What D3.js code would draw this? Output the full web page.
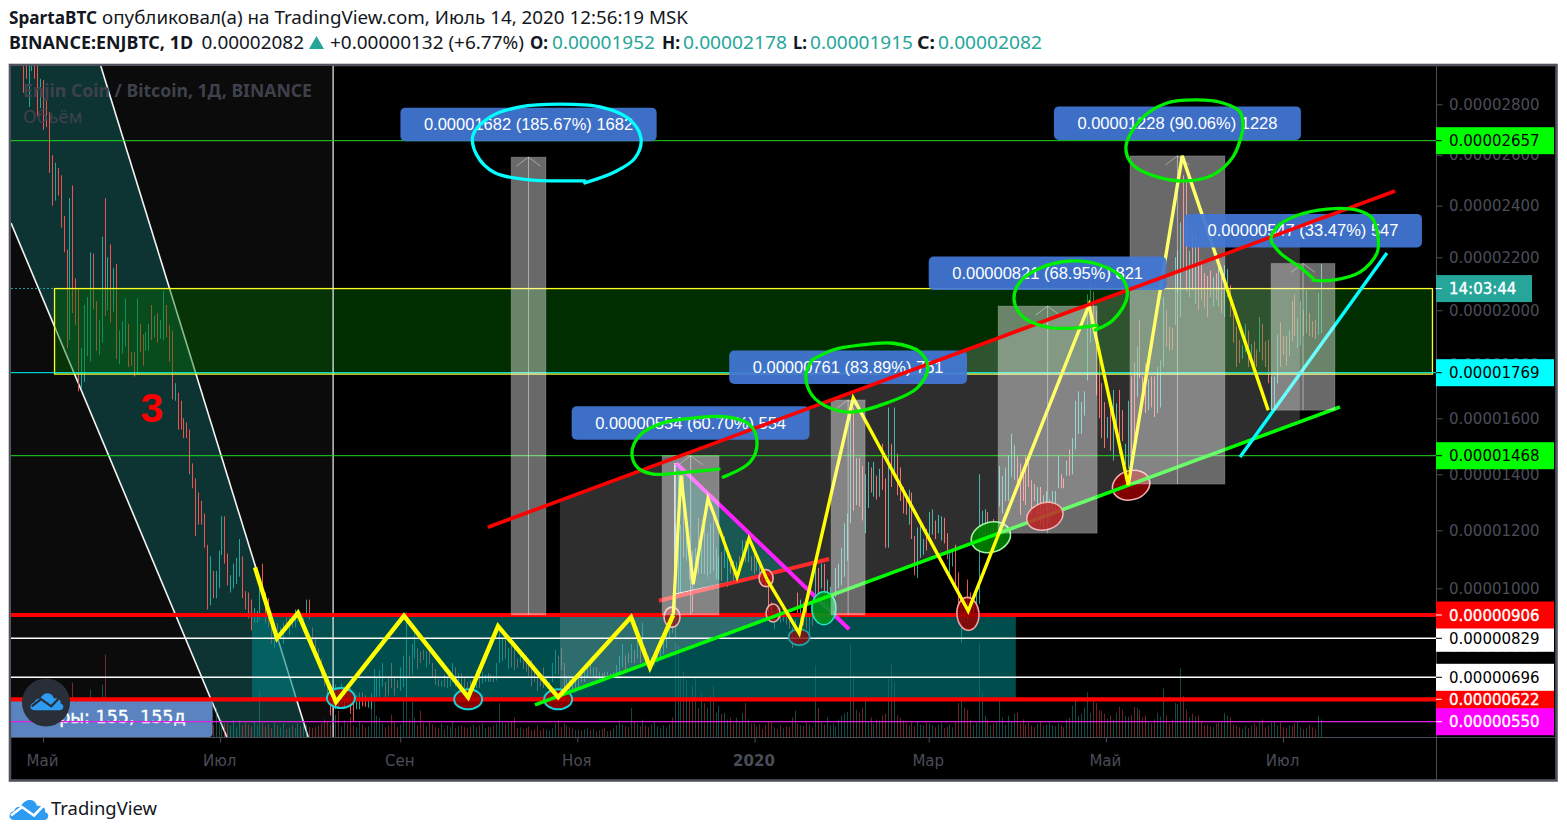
<!DOCTYPE html>
<html><head><meta charset="utf-8">
<script src="https://cdn.jsdelivr.net/npm/d3@7"></script>
<style>html,body{margin:0;padding:0;background:#fff;overflow:hidden}svg{display:block}</style>
</head><body><div id="chart"></div>
<script>
// ---- prices are in satoshi (1e-8 BTC); one row per ten daily bars, oldest first
const candleHigh=[
2960,2960,2960,2960,2960,2960,2900,2895,2815,2770,
2600,2570,2550,2520,2360,2230,2430,2480,2120,2080,
1860,2020,2050,2220,2215,2035,1965,2280,2430,2200,
2250,2160,2175,1925,1960,2045,1950,1845,1845,2045,
1950,1910,1920,1950,2020,1980,1990,1965,2075,2020,
1945,1925,1730,1695,1665,1600,1585,1560,1440,1385,
1335,1305,1260,1150,1110,1060,1060,1130,1250,1250,
1120,1045,1085,1105,1170,1110,990,985,960,930,
920,1025,1085,985,965,915,880,880,865,880,
898,898,906,925,922,915,898,960,960,865,
832,795,760,700,696,665,663,672,663,675,
665,663,660,620,635,645,645,635,625,642,
725,696,720,745,680,700,745,700,685,730,
770,915,770,810,845,795,785,790,785,785,
745,725,690,685,705,695,705,745,730,710,
710,695,680,685,680,720,705,715,705,710,
705,700,745,865,830,830,795,820,810,760,
790,780,770,760,755,730,696,700,730,700,
680,745,790,770,795,745,700,700,695,705,
705,710,720,735,760,730,730,715,710,715,
715,710,715,738,770,810,770,780,810,790,
865,820,880,795,770,765,785,795,790,830,
840,890,906,1220,1410,1220,1400,1200,1140,1130,
1140,1245,1165,1220,1190,1225,1245,1140,1110,1125,
1180,1125,1110,1095,1090,1110,1165,1165,1150,1110,
1125,1105,1090,1060,1045,1030,950,920,930,915,
900,900,895,865,890,985,960,950,930,905,
935,1070,1070,1085,1085,1030,1005,975,1070,1085,
1140,1225,1260,1640,1640,1460,1460,1430,1400,1445,
1425,1445,1395,1420,1510,1385,1640,1510,1640,1475,
1425,1355,1325,1345,1335,1180,1210,1230,1170,1205,
1265,1275,1235,1255,1250,1245,1190,1120,1135,1150,
1055,945,920,1030,985,960,985,1400,1270,1275,
1265,1210,1240,1210,1430,1395,1425,1470,1545,1505,
1465,1440,1415,1465,1465,1380,1365,1355,1355,1325,
1340,1310,1340,1340,1470,1400,1385,1450,1490,1530,
1665,1700,1660,1700,2060,2100,2070,2000,1830,1730,
1660,1605,1635,1705,1655,1705,1630,1510,1665,1755,
1805,1865,1965,1755,1805,1745,1755,1755,1790,1815,
2050,2000,1940,1935,2200,2225,2335,2520,2495,2225,
2290,2290,2250,2190,2140,2130,2150,2125,2140,2165,
2125,2170,2155,2095,1990,1940,1890,1870,1950,1925,
1875,1885,1855,1975,1950,1885,1890,1755,1755,1910,
1955,1905,1905,1925,2035,2060,1970,2035,2000,2075,
1990,1960,1965,2065,2175];
const candleLow=[
2845,2900,2790,2930,2900,2755,2785,2700,2710,2530,
2400,2420,2440,2315,2220,1860,1890,1990,1945,1700,
1710,1735,1830,1810,2005,1850,1835,1880,1980,2000,
1955,1995,1820,1800,1840,1865,1790,1795,1755,1765,
1845,1795,1850,1850,1890,1900,1880,1895,1890,1900,
1810,1670,1665,1560,1560,1530,1530,1400,1350,1180,
1220,1220,1140,925,940,965,965,1000,1115,1085,
1010,985,1000,1015,1040,965,925,895,855,880,
880,890,965,880,865,810,795,822,829,810,
860,840,865,865,885,885,875,898,890,785,
778,742,696,665,625,570,587,590,595,605,
595,610,575,550,590,590,600,598,595,590,
620,630,630,665,630,635,660,635,660,650,
663,620,700,705,760,725,745,755,730,740,
696,670,665,665,663,660,665,680,665,665,
670,660,660,658,655,660,660,675,680,680,
680,680,685,745,752,760,725,730,720,730,
745,725,715,700,665,680,650,665,660,680,
645,680,705,705,720,630,635,650,650,655,
660,680,680,695,705,695,690,690,690,692,
695,692,695,705,705,730,720,745,745,745,
760,745,795,745,725,720,735,745,765,775,
795,829,845,830,970,975,1105,1095,1030,915,
1050,1050,1050,1050,1040,1050,1060,1030,1030,1025,
1070,1005,1050,1020,1035,1045,1095,1090,1090,1060,
1050,1060,1050,1020,1005,915,880,860,885,880,
885,875,860,795,810,900,830,870,860,840,
870,950,950,1000,945,935,925,905,970,1000,
1010,1040,1095,1225,1270,1290,1285,1235,1190,1280,
1335,1320,1310,1320,1345,1140,1140,1355,1390,1325,
1305,1260,1255,1220,1170,1045,1035,1105,1115,1130,
1180,1185,1170,1190,1165,1155,1100,1045,1075,995,
945,815,880,880,900,890,925,945,1140,1155,
1190,1175,1175,1140,1285,1260,1305,1305,1390,1380,
1350,1255,1305,1290,1355,1255,1305,1255,1215,1200,
1270,1225,1270,1270,1350,1350,1350,1395,1395,1400,
1490,1545,1545,1610,1740,1880,1965,1685,1600,1530,
1495,1530,1485,1450,1555,1475,1520,1435,1420,1385,
1525,1680,1750,1670,1620,1630,1640,1605,1620,1640,
1790,1865,1850,1855,1945,2065,1975,2150,2070,2050,
2075,2025,2000,2040,2010,1975,2050,2015,2040,2015,
1990,1975,2050,1975,1880,1790,1805,1820,1845,1790,
1830,1790,1790,1845,1815,1790,1730,1630,1640,1730,
1790,1835,1795,1830,1885,1905,1860,1870,1905,1915,
1905,1900,1895,1910,1915];
const candleRising=[
0,0,1,1,0,0,1,0,0,0,
0,1,0,0,0,0,1,0,0,0,
1,1,1,1,0,0,1,1,0,1,
0,1,0,1,1,1,0,0,0,1,
0,0,1,1,0,1,0,1,1,0,
0,0,1,0,0,0,0,0,0,0,
0,0,0,0,1,0,1,1,1,0,
0,1,1,1,1,0,0,0,0,1,
1,1,0,0,0,0,1,0,1,1,
0,1,0,1,1,0,1,1,0,0,
0,0,0,0,0,0,0,1,0,1,
1,0,0,0,1,1,0,0,1,1,
1,1,1,1,0,0,0,0,0,1,
1,1,0,1,1,0,0,0,1,0,
0,0,0,1,0,1,1,1,0,1,
0,0,0,0,1,1,0,1,1,0,
1,0,1,1,1,0,1,0,0,0,
1,0,0,0,0,0,0,0,0,1,
1,1,1,0,0,0,1,0,0,1,
1,0,1,1,0,1,0,1,0,0,
1,0,1,1,1,1,0,0,1,0,
1,0,1,0,0,1,1,1,1,1,
1,1,0,1,1,1,0,1,0,0,
1,0,1,0,1,1,0,1,1,0,
1,1,0,0,1,0,1,0,1,0,
0,1,0,0,0,0,0,1,0,0,
1,0,0,0,1,0,1,0,0,1,
0,1,0,1,0,1,1,1,1,1,
1,1,1,1,0,1,0,0,1,1,
0,1,0,1,0,0,1,0,1,0,
0,0,0,1,0,0,1,1,1,0,
1,1,0,1,1,0,0,1,1,0,
0,1,0,0,0,1,1,1,1,1,
0,1,0,1,1,1,1,1,1,1,
0,0,0,0,0,0,0,1,0,1,
1,1,1,1,1,0,0,1,0,1,
1,1,1,1,1,1,0,0,0,0,
0,1,0,1,1,0,0,1,1,0,
0,1,0,0,0,1,0,0,1,1,
1,0,0,0,1,1,1,0,0,1,
0,1,0,0,0,0,0,1,0,1,
0,1,1,0,0,0,0,1,1,0,
1,0,0,1,0,0,0,1,1,1,
0,0,0,1,0,0,1,1,0,1,
0,0,0,1,1];
// relative volume (0..100)
const volumeRel=[
12,18,10,16,9,14,46,20,12,16,
22,12,15,18,10,14,24,56,16,18,
18,14,16,49,12,15,18,54,85,20,
22,16,12,14,18,11,13,15,10,17,
14,12,18,9,11,16,13,10,15,12,
30,14,10,12,16,9,13,11,15,12,
14,12,18,16,20,12,30,13,18,14,
14,12,18,10,17,12,15,13,11,16,
12,47,14,11,13,9,15,12,10,14,
8,10,12,9,14,11,16,13,10,9,
10,12,14,18,16,13,12,23,27,11,
17,14,21,12,10,16,13,10,11,34,
37,22,20,14,10,12,23,15,10,13,
37,37,18,36,20,12,27,14,11,15,
13,10,9,14,8,12,10,16,9,11,
12,10,9,11,13,10,12,14,9,11,
10,12,14,35,15,14,15,16,20,9,
10,8,9,11,7,8,12,7,9,8,
7,9,14,17,10,14,12,10,9,7,
8,7,8,9,7,8,6,7,8,9,
6,7,9,12,17,13,11,10,30,16,
14,11,18,12,10,13,16,11,9,12,
10,13,20,97,94,60,67,58,40,52,
60,30,45,35,30,43,53,25,32,24,
25,18,20,14,20,16,25,35,18,14,
14,11,13,8,12,16,15,10,8,12,
9,11,10,20,27,14,12,11,15,13,
10,74,30,15,13,20,12,14,11,18,
22,24,26,95,65,28,25,30,42,16,
20,14,18,17,22,24,60,75,57,22,
20,17,14,12,15,11,16,13,12,15,
14,12,10,13,15,9,11,13,10,16,
35,41,30,28,18,13,15,97,46,22,
18,12,14,15,41,20,13,22,16,24,
25,14,18,13,15,12,10,14,16,11,
13,15,12,11,14,12,10,18,20,32,
41,22,24,30,46,25,38,35,28,27,
24,19,22,18,25,31,28,22,21,23,
31,30,28,20,22,15,14,18,25,21,
50,22,14,18,35,34,71,42,28,20,
24,21,22,16,12,13,11,10,14,15,
15,25,22,20,13,12,10,8,11,9,
12,14,11,16,18,10,12,15,16,12,
15,10,9,12,11,14,16,10,8,9,
12,10,8,22,18];

// axes
const timeTickDates=["2019-05-01","2019-07-01","2019-09-01","2019-11-01","2020-01-01","2020-03-01","2020-05-01","2020-07-01"];
const timeTickLabels=["Май","Июл","Сен","Ноя","2020","Мар","Май","Июл"];
const priceTicks=[2800,2600,2400,2200,2000,1800,1600,1400,1200,1000,800,600];
const priceStops=[501,550,622,696,829,906,1000,1200,1400,1468,1600,1769,2000,2200,2400,2657,2800,2950];

// horizontal levels and their axis tags
const levelPrices=[2657,1769,1468,829,906,622,696,550];
const levelNames=["lime","cyan","lime","white","red","red","white","magenta"];
const lastPrice=2082;

// range tools (days since 2019-05-01)
const rangeDelta=[1682,554,761,821,1228,547];
const rangeBase=[906,906,906,1190,1365,1630];
const rangeTop=[2592,1468,1668,2016,2597,2177];
const rangePercent=["185.67","60.70","83.89","68.95","90.06","33.47"];
const rangeStartDay=[161.2,213.2,271.4,328.9,374.3,422.9];
const rangeEndDay=[173.2,232.8,283.1,363,407,444.9];

// drawings: [day since 2019-05-01, price]
const zigzagFirst=[[73,1072],[80.6,829],[87.8,913],[100.9,613],[124.3,903],[146.4,629],[156.7,869],[177.4,629],[202.5,899],[209,730],[217,906]];
const zigzagInner=[[217,906],[219.7,1396],[223.9,1014],[229,1314],[239,1038],[243.1,1172],[249.3,1031]];
const zigzagLast=[[249.3,1031],[260.4,846],[279,1675],[318.6,920],[360.2,2020],[373.7,1361],[392.3,2597],[421.9,1630]];
const trendRed=[[153.2,1211],[465.6,2458]];
const trendGreen=[[169.4,604],[446.6,1642]];
const trendMagenta=[[218,1441],[277.6,859]];
const trendSalmon=[[212.1,956],[270.7,1101]];
const trendCyan=[[412.2,1463],[462.8,2217]];
const wedgeCorners=[[217.6,1441],[217.6,980],[256.2,1062]];
const channelCorners=[[178,1308],[432.8,2321],[432.8,1587],[178,636.5]];
const downChannelCorners=[[-11,2950],[19.9,2950],[91.3,501],[63.3,501],[-11,2333]];
const tealZoneDays=[72,335];
const tealZonePrices=[906,622];
const yellowZoneDays=[3.8,478.3];
const yellowZonePrices=[2082,1764];
const cursorDay=99.9;
const countLabelDays=[-11,58.4];
const countLabelPrices=[622,501];
const countLabelEndDay=49.1;
const countLabelPrice=546;
const waveNumberAt=[37.5,1587];

const loopCyan=[[186.6,2498],[181.5,2498],[167.7,2502],[155.6,2530],[149.4,2600],[148.1,2680],[153.9,2750],[164.3,2790],[178,2801],[191.8,2790],[201.4,2746],[205.9,2668],[203.9,2589],[197,2534],[186.6,2490]];
const loopB=[[232.8,1419],[221.8,1408],[210.1,1401],[204.9,1423],[202.8,1478],[205.6,1541],[213.5,1584],[223.8,1601],[235.5,1605],[243.5,1576],[245.9,1513],[243.5,1445],[234.2,1390]];
const loopC=[[264.8,1816],[262.7,1760],[264.8,1686],[271,1638],[278.6,1623],[290.6,1657],[301,1712],[304.7,1786],[302,1845],[292.7,1878],[281.3,1871],[272,1853],[264.8,1816]];
const loopD=[[362.3,1927],[368.5,1964],[373.3,2050],[371.6,2122],[364,2171],[353.7,2186],[343.3,2159],[336.4,2107],[334.4,2039],[337.5,1975],[345.7,1938],[354.7,1934],[362.9,1945]];
const loopE=[[413.2,2699],[412.2,2770],[406.3,2805],[397.4,2817],[387,2805],[377.8,2738],[372.9,2632],[375.3,2561],[383.6,2514],[393.9,2498],[402.9,2522],[409.8,2593],[413.2,2699]];
const loopF=[[437.3,2114],[444.2,2114],[453.5,2144],[459.4,2217],[459.7,2279],[457.7,2352],[452.5,2383],[442.2,2387],[431.8,2362],[424.9,2317],[422.9,2267],[426,2217],[432.8,2163],[437.3,2121]];

const ovalDays=[102.6,146.4,177.4,260.4,216.6,249,251.4,268.9,318.5,326.4,374.7];
const ovalPrices=[626,622,622,833,899,1035,913,930,910,1176,1361];
const ovalKinds=["lowCyan","lowCyan","lowCyan","lowSmall","dotA","dotB","dotC","greenTall","redTall","greenWide","redWide"];
const overRangeOvalDay=345;
const overRangeOvalPrice=1250;

// ---- layout and style
const W=1567,H=836;
const pane={l:11,t:66,r:1436,b:737,bottom:780,right:1556};
const paneFont="'DejaVu Sans',sans-serif";
const textFont="'Noto Sans','Open Sans',sans-serif";
const axisInk="#4a4d58";
const inkDark="#131722";
const tealInk="#26a69a";
const levelStyle={lime:{fill:"#00ff00",ink:"#000",line:"#22d822",w:1},cyan:{fill:"#00ffff",ink:"#000",line:"#00ffff",w:1},
  white:{fill:"#ffffff",ink:"#000",line:"#ffffff",w:1.5},red:{fill:"#ff0000",ink:"#fff",line:"#ff0000",w:4.2},magenta:{fill:"#ff00ff",ink:"#fff",line:"#e020e0",w:1.2}};
const ovalStyle={
 lowCyan:{rx:14,ry:10,rot:0,fill:"rgba(170,0,0,.8)",rim:"#19d3d8",sw:2},
 lowSmall:{rx:10.5,ry:8,rot:0,fill:"rgba(140,10,10,.8)",rim:"#1aa7ad",sw:1.6},
 dotA:{rx:8,ry:10,rot:0,fill:"rgba(150,20,20,.7)",rim:"#f0b0b0",sw:1.6},
 dotB:{rx:7,ry:8.5,rot:0,fill:"rgba(190,20,20,.8)",rim:"#f0b0b0",sw:1.6},
 dotC:{rx:7,ry:9,rot:0,fill:"rgba(150,20,20,.75)",rim:"#f0b0b0",sw:1.6},
 greenTall:{rx:12,ry:16.5,rot:0,fill:"rgba(0,150,30,.9)",rim:"#20e8c0",sw:1.6},
 redTall:{rx:11,ry:16.5,rot:-4,fill:"rgba(150,0,0,.85)",rim:"#f0a0a0",sw:1.6},
 greenWide:{rx:20,ry:15,rot:-17,fill:"rgba(0,128,0,.92)",rim:"#a0f0a0",sw:1.6},
 redWide:{rx:19,ry:14.5,rot:-17,fill:"rgba(140,0,0,.92)",rim:"#f0b0b0",sw:1.6}};

const svg=d3.select("#chart").append("svg").attr("width",W).attr("height",H).style("background","#fff");

// scales
const utc=s=>new Date(s+"T00:00:00Z");
const x=d3.scaleUtc().domain([utc("2019-05-01"),utc("2020-07-01")]).range([43,1283]);
const X=d=>x(new Date(+utc("2019-05-01")+d*864e5));
const Y=d3.scaleLinear().domain(priceStops).range([737,721.7,699.3,677.3,638.3,615,588.3,530.3,474.3,455.7,418.3,372.7,310.3,257.3,205.7,140.7,104.3,66]);
const barX=d3.scalePoint().domain(d3.range(candleHigh.length)).range([x(utc("2019-04-24")),x(utc("2020-07-14"))]);
const volY=d3.scaleLinear().domain([0,100]).range([pane.b,pane.b-97]);
const path=d3.line().x(d=>X(d[0])).y(d=>Y(d[1]));
const loop=d3.line().x(d=>X(d[0])).y(d=>Y(d[1])).curve(d3.curveCatmullRom.alpha(.5));
const poly=pts=>path(pts)+"Z";

// frame
svg.append("defs").append("clipPath").attr("id","paneClip").append("rect").attr("x",pane.l).attr("y",pane.t).attr("width",pane.r-pane.l).attr("height",pane.b-pane.t);
svg.append("rect").attr("x",10).attr("y",65).attr("width",1546.5).attr("height",715.5).attr("fill","#000").attr("stroke","#50535e").attr("stroke-width",2.6);
const g=svg.append("g").attr("clip-path","url(#paneClip)");

// background
g.append("rect").attr("x",pane.l).attr("y",pane.t).attr("width",X(cursorDay)-pane.l).attr("height",pane.b-pane.t).attr("fill","#0b0b0b");
svg.append("text").attr("x",23).attr("y",97).attr("font-family",textFont).attr("font-weight",700).attr("font-size",18).attr("textLength",289).attr("lengthAdjust","spacingAndGlyphs").attr("fill","#3f414c").text("Enjin Coin / Bitcoin, 1Д, BINANCE");
svg.append("text").attr("x",23).attr("y",123).attr("font-family",textFont).attr("font-size",18).attr("fill","#3f414c").text("Объём");

// falling channel
g.append("path").attr("d",poly(downChannelCorners)).attr("fill","rgba(16,78,78,.6)");
g.append("path").attr("d",path([downChannelCorners[1],downChannelCorners[2]])).attr("stroke","#f4f4f4").attr("stroke-width",1.6).attr("fill","none");
g.append("path").attr("d",path([downChannelCorners[4],downChannelCorners[3]])).attr("stroke","#f4f4f4").attr("stroke-width",1.6).attr("fill","none");

// volume, candles
const bars=d3.range(candleHigh.length);
const up=i=>candleRising[i]===1;
const snap=v=>Math.round(v)+.5;
g.append("g").selectAll("line").data(bars).join("line")
 .attr("x1",i=>snap(barX(i))).attr("x2",i=>snap(barX(i))).attr("y1",pane.b).attr("y2",i=>volY(volumeRel[i]))
 .attr("stroke",i=>up(i)?"rgba(38,166,154,.45)":"rgba(239,83,80,.45)").attr("stroke-width",1);
g.append("g").selectAll("line").data(bars).join("line")
 .attr("x1",i=>snap(barX(i))).attr("x2",i=>snap(barX(i))).attr("y1",i=>Y(candleHigh[i])).attr("y2",i=>Y(candleLow[i]))
 .attr("stroke",i=>up(i)?tealInk:"#ef5350").attr("stroke-width",1);

// current price line, zones
g.append("line").attr("x1",pane.l).attr("x2",pane.r).attr("y1",Y(lastPrice)).attr("y2",Y(lastPrice)).attr("stroke",tealInk).attr("stroke-dasharray","2 2");
g.append("rect").attr("x",X(tealZoneDays[0])).attr("y",Y(tealZonePrices[0])).attr("width",X(tealZoneDays[1])-X(tealZoneDays[0])).attr("height",Y(tealZonePrices[1])-Y(tealZonePrices[0])).attr("fill","rgba(0,128,128,.6)");
g.append("rect").attr("x",X(yellowZoneDays[0])+.5).attr("y",Y(yellowZonePrices[0])).attr("width",X(yellowZoneDays[1])-X(yellowZoneDays[0])).attr("height",Y(yellowZonePrices[1])-Y(yellowZonePrices[0])).attr("fill","rgba(0,110,0,.42)").attr("stroke","#ffff20").attr("stroke-width",1.3);

// cursor line
g.append("line").attr("x1",X(cursorDay)).attr("x2",X(cursorDay)).attr("y1",pane.t).attr("y2",pane.b).attr("stroke","#f0f0f0").attr("stroke-width",1.2);

// rising channel
g.append("path").attr("d",poly(channelCorners)).attr("fill","rgba(255,255,255,.18)");
g.append("path").attr("d",path(channelCorners.slice(0,2))).attr("stroke","rgba(210,210,210,.6)").attr("fill","none");
g.append("path").attr("d",path(channelCorners.slice(2))).attr("stroke","rgba(210,210,210,.6)").attr("fill","none");

// count label bottom-left
g.append("path").attr("d",()=>{const x0=X(countLabelDays[0]),x1=X(countLabelDays[1]),y0=Y(countLabelPrices[0]),y1=Y(countLabelPrices[1]);
 return `M${x0},${y0}H${x1}V${y1-4}Q${x1},${y1} ${x1-4},${y1}H${x0}Z`;}).attr("fill","#5b83bf");
g.append("text").attr("x",X(countLabelEndDay)).attr("y",Y(countLabelPrice)).attr("text-anchor","end").attr("font-family",paneFont).attr("font-size",17.5).attr("fill","#fff").attr("stroke","#fff").attr("stroke-width",.35).text("Бары: 155, 155д");

// horizontal levels
levelPrices.forEach((p,i)=>{const s=levelStyle[levelNames[i]];
 g.append("line").attr("x1",pane.l).attr("x2",pane.r).attr("y1",Y(p)).attr("y2",Y(p)).attr("stroke",s.line).attr("stroke-width",s.w);});

// wedge & lines under the range tools
g.append("path").attr("d",poly(wedgeCorners)).attr("fill","rgba(0,150,136,.42)");
g.append("path").attr("d",path(wedgeCorners.slice(0,2))).attr("stroke","#f0f0f0").attr("stroke-width",1.4).attr("fill","none");
g.append("path").attr("d",path(wedgeCorners.slice(1))).attr("stroke","#f0f0f0").attr("stroke-width",1.2).attr("fill","none");
const stroke=(pts,col,w)=>g.append("path").attr("d",path(pts)).attr("fill","none").attr("stroke",col).attr("stroke-width",w).attr("stroke-linejoin","miter");
stroke(trendSalmon,"#ff2a2a",4);
stroke(trendMagenta,"#ff20ff",4);
ovalDays.forEach((d,i)=>{const s=ovalStyle[ovalKinds[i]];const cx=X(d),cy=Y(ovalPrices[i]);
 g.append("ellipse").attr("cx",cx).attr("cy",cy).attr("rx",s.rx).attr("ry",s.ry).attr("transform",`rotate(${s.rot} ${cx} ${cy})`).attr("fill",s.fill).attr("stroke",s.rim).attr("stroke-width",s.sw);});
stroke(trendGreen,"#00ff00",3.6);
stroke(trendCyan,"#00ffff",3.4);
stroke(zigzagFirst,"#ffff00",4.4);
stroke(zigzagInner,"#ffff00",3.2);
stroke(zigzagLast,"#ffff00",3.4);

// price range tools
const rangeIdx=d3.range(rangeDelta.length);
rangeIdx.forEach(i=>{
 const x0=X(rangeStartDay[i]),x1=X(rangeEndDay[i]),mid=(x0+x1)/2,top=Y(rangeTop[i]),bot=Y(rangeBase[i]);
 g.append("rect").attr("x",x0).attr("y",top).attr("width",x1-x0).attr("height",bot-top).attr("fill","rgba(255,255,255,.41)").attr("stroke","rgba(255,255,255,.18)");
 g.append("line").attr("x1",mid).attr("x2",mid).attr("y1",top).attr("y2",bot).attr("stroke","rgba(230,230,230,.55)");
 g.append("path").attr("d",`M${mid-12},${top+9}L${mid},${top}L${mid+12},${top+9}`).attr("fill","none").attr("stroke","rgba(230,230,230,.5)");
});
{const cx=X(overRangeOvalDay),cy=Y(overRangeOvalPrice);
 g.append("ellipse").attr("cx",cx).attr("cy",cy).attr("rx",18.5).attr("ry",13.5).attr("transform",`rotate(-17 ${cx} ${cy})`).attr("fill","rgba(190,30,30,.82)").attr("stroke","#f0b8b8").attr("stroke-width",1.5);}
rangeIdx.forEach(i=>{
 const x0=X(rangeStartDay[i]),x1=X(rangeEndDay[i]),mid=(x0+x1)/2,top=Y(rangeTop[i]);
 const label=`${(rangeDelta[i]/1e8).toFixed(8)} (${rangePercent[i]}%) ${rangeDelta[i]}`;
 const bg=g.append("rect").attr("y",top-49.5).attr("height",33.5).attr("rx",5).attr("fill","rgba(66,119,214,.93)");
 const t=g.append("text").attr("x",mid).attr("y",top-27).attr("text-anchor","middle").attr("font-family","'Liberation Sans',Arial,sans-serif").attr("font-size",16.5).attr("fill","#fff").text(label);
 const w=t.node().getComputedTextLength()+47;
 bg.attr("x",mid-w/2).attr("width",w);
});

// lines and pen strokes on top
stroke(trendRed,"#ff0000",3.6);
const pen=(pts,col)=>g.append("path").attr("d",loop(pts)).attr("fill","none").attr("stroke",col).attr("stroke-width",3.3).attr("stroke-linecap","round");
pen(loopCyan,"#00ffff");
[loopB,loopC,loopD,loopE,loopF].forEach(l=>pen(l,"#00ee00"));
g.append("text").attr("x",X(waveNumberAt[0])).attr("y",Y(waveNumberAt[1])).attr("text-anchor","middle").attr("font-family","'Liberation Sans',Arial,sans-serif").attr("font-weight",700).attr("font-size",41).attr("fill","#ff0000").text("3");

// logo helper
function cloud(sel,tx,ty,k,lineCol){
 const c=sel.append("g").attr("transform",`translate(${tx},${ty}) scale(${k})`);
 c.append("path").attr("d","M5,22C-1,22 -1,14 5,13C6,9 10,8 12,9C15,0 26,0 28,8C34,7 37,11 36,14C41,15 40,22 35,22Z").attr("fill","#2d9bf0");
 c.append("path").attr("d","M2,17.5L13,9L25,17.5L35,7").attr("fill","none").attr("stroke",lineCol).attr("stroke-width",2.6);
}
svg.append("circle").attr("cx",46).attr("cy",702.5).attr("r",24).attr("fill","#2a2e39");
cloud(svg,30,691.5,.85,"#2a2e39");
cloud(svg,9,798,1,"#ffffff");
svg.append("text").attr("x",51).attr("y",815).attr("font-family",textFont).attr("font-size",18).attr("textLength",106).attr("lengthAdjust","spacingAndGlyphs").attr("fill",inkDark).text("TradingView");

// axes
svg.append("line").attr("x1",pane.l).attr("x2",pane.right).attr("y1",pane.b+.5).attr("y2",pane.b+.5).attr("stroke",axisInk);
svg.append("line").attr("x1",pane.r+.5).attr("x2",pane.r+.5).attr("y1",pane.t).attr("y2",pane.bottom).attr("stroke",axisInk);
const priceAxis=d3.axisRight(Y).tickValues(priceTicks).tickSize(6).tickPadding(6.5).tickFormat(v=>(v/1e8).toFixed(8));
const pa=svg.append("g").attr("transform",`translate(${pane.r+.5},0)`).call(priceAxis);
pa.select(".domain").remove();
pa.selectAll("line").attr("stroke",axisInk);
pa.selectAll("text").attr("font-family",paneFont).attr("font-size",15).attr("fill",axisInk);
const timeAxis=d3.axisBottom(x).tickValues(timeTickDates.map(utc)).tickSize(5).tickPadding(13).tickFormat((d,i)=>timeTickLabels[i]);
const ta=svg.append("g").attr("transform",`translate(0,${pane.b+.5})`).call(timeAxis);
ta.select(".domain").remove();
ta.selectAll("line").attr("stroke",axisInk);
ta.selectAll("text").attr("font-family",paneFont).attr("font-size",15).attr("fill",axisInk).attr("dx",-1).attr("font-weight",(d,i)=>timeTickLabels[i]==="2020"?700:400);

// axis tags
const tag=(v,label,bg,ink,w)=>{const y=Y(v);
 svg.append("rect").attr("x",pane.r).attr("y",y-13.5).attr("width",w).attr("height",27).attr("fill",bg);
 svg.append("line").attr("x1",pane.r).attr("x2",pane.r+6).attr("y1",y).attr("y2",y).attr("stroke",ink);
 const t=svg.append("text").attr("x",pane.r+13).attr("y",y+5.5).attr("font-family",paneFont).attr("font-size",15).attr("fill",ink).text(label);
 if(ink==="#fff")t.attr("stroke","#fff").attr("stroke-width",.35);};
tag(lastPrice,"14:03:44",tealInk,"#fff",96);
levelPrices.forEach((p,i)=>{const s=levelStyle[levelNames[i]];tag(p,(p/1e8).toFixed(8),s.fill,s.ink,118);});

// header
const head=(xp,yp,txt,len,o={})=>svg.append("text").attr("x",xp).attr("y",yp).attr("font-family",textFont).attr("font-size",18).attr("font-weight",o.b?700:400).attr("textLength",len).attr("lengthAdjust","spacingAndGlyphs").attr("fill",o.c||inkDark).text(txt);
head(9,24,"SpartaBTC",88,{b:1});
head(102,24,"опубликовал(а) на TradingView.com, Июль 14, 2020 12:56:19 MSK",586);
head(9,49,"BINANCE:ENJBTC, 1D",184,{b:1});
head(201.5,49,"0.00002082",102.5);
svg.append("path").attr("d","M309,49L316.5,36L324,49Z").attr("fill",tealInk);
head(330,49,"+0.00000132 (+6.77%)",194);
head(530,49,"O:",18,{b:1});head(552,49,"0.00001952",103,{c:tealInk});
head(662,49,"H:",18,{b:1});head(683,49,"0.00002178",104,{c:tealInk});
head(793,49,"L:",14,{b:1});head(810,49,"0.00001915",103,{c:tealInk});
head(917,49,"C:",18,{b:1});head(938,49,"0.00002082",104,{c:tealInk});
</script></body></html>
